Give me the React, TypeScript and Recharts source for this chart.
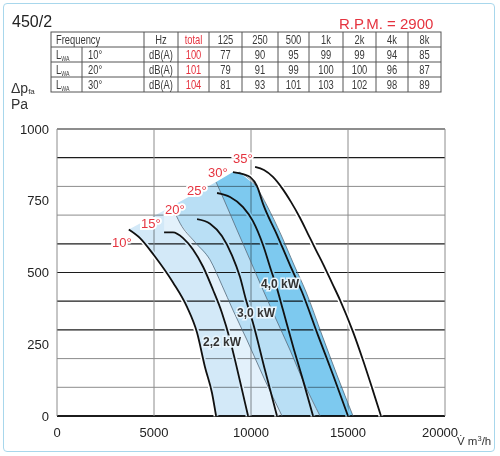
import React from 'react';
import { ComposedChart, Line, Scatter, XAxis, YAxis, CartesianGrid } from 'recharts';

type Pt = [number, number];

// blade angle curves, [flow m3/h, pressure Pa]
const CURVE_10: Pt[] = [[3700, 650], [4280, 620], [5000, 560], [5980, 465], [6700, 380], [7220, 290], [7630, 170], [7990, 80], [8200, 0]];
const CURVE_15: Pt[] = [[5520, 640], [5980, 640], [6500, 620], [7010, 580], [7530, 520], [8040, 440], [8500, 360], [8920, 265], [9230, 180], [9540, 90], [9850, 0]];
const CURVE_20: Pt[] = [[7220, 686], [7890, 670], [8500, 627], [9020, 560], [9430, 485], [9740, 405], [10100, 325], [10720, 160], [11340, 0]];
const CURVE_25: Pt[] = [[8250, 777], [8920, 763], [9590, 728], [10100, 679], [10620, 596], [11030, 509], [11290, 456], [11650, 369], [12220, 230], [12680, 125], [13200, 0]];
const CURVE_30: Pt[] = [[9070, 850], [9590, 843], [9950, 833], [10310, 801], [10620, 739], [11340, 631], [12010, 526], [12630, 432], [13450, 282], [14230, 143], [15000, 0]];
const CURVE_35: Pt[] = [[10210, 868], [10670, 857], [11130, 833], [11600, 794], [12060, 746], [12530, 690], [12940, 634], [13350, 578], [13710, 530], [14180, 463], [14590, 404], [15260, 293], [15770, 195], [16240, 98], [16700, 0]];

// motor power limits (band boundaries) and outer edge of the shaded field
const LIMIT_22: Pt[] = [[5930, 732], [6340, 672], [7110, 606], [7890, 544], [8500, 456], [9070, 369], [9790, 265], [10670, 132], [11600, 0]];
const LIMIT_30: Pt[] = [[8200, 815], [8610, 753], [9280, 648], [9950, 544], [10620, 439], [11240, 345], [12010, 230], [12780, 108], [13560, 0]];
const LIMIT_40: Pt[] = [[9380, 850], [10210, 805], [10830, 732], [11550, 631], [12220, 526], [12840, 432], [13660, 282], [14430, 143], [15260, 0]];
const TOP_15: Pt = [5520, 716];

const BLADE_LABELS = [
  { text: '10°', x: 2835, y: 606 },
  { text: '15°', x: 4330, y: 672 },
  { text: '20°', x: 5567, y: 718 },
  { text: '25°', x: 6701, y: 787 },
  { text: '30°', x: 7783, y: 850 },
  { text: '35°', x: 9072, y: 899 },
];
const POWER_LABELS = [
  { text: '2,2 kW', x: 7526, y: 258 },
  { text: '3,0 kW', x: 9278, y: 359 },
  { text: '4,0 kW', x: 10515, y: 460 },
];

const X_TICKS = [0, 5000, 10000, 15000, 20000];
const Y_TICKS = [0, 250, 500, 750, 1000];
const GRID_Y = [0, 50, 100, 150, 200, 250, 300, 350, 400, 450, 500, 550, 600, 650, 700, 750, 800, 850, 900, 950, 1000];
const GRID_DARK = [0, 150, 200, 250, 300, 450, 500, 550, 600, 700, 750, 850, 900];

// sound power table
const BANDS = ['Hz', 'total', '125', '250', '500', '1k', '2k', '4k', '8k'];
const ANGLES = ['10°', '20°', '30°'];
const TOTALS = [100, 101, 104];
const LEVELS = [
  [77, 90, 95, 99, 99, 94, 85],
  [79, 91, 99, 100, 100, 96, 87],
  [81, 93, 101, 103, 102, 98, 89],
];

const RED = '#e5333f';
const FONT = '"Liberation Sans", Arial, sans-serif';
const COL_X = [51, 82, 144, 178, 209, 242, 278, 309, 343, 376, 408, 441];
const ROW_Y = [32, 47, 62, 77, 92];

const toObj = (pts: Pt[]) => pts.map(([x, y]) => ({ x, y }));
const poly = (...parts: Pt[][]) => toObj(parts.flat());

const CURVES = [CURVE_10, CURVE_15, CURVE_20, CURVE_25, CURVE_30, CURVE_35];
const SHADES = [
  { fill: '#d3e9f8', pts: poly(CURVE_10, [...CURVE_15].reverse(), [TOP_15]) },
  { fill: '#e3f1fb', pts: poly(CURVE_15, [...LIMIT_22].reverse(), [TOP_15]) },
  { fill: '#b9dff5', pts: poly(LIMIT_22, [...LIMIT_30].reverse()) },
  { fill: '#7dc9ef', pts: poly(LIMIT_30, [...LIMIT_40].reverse(), [CURVE_30[0]]) },
];

const polygon = (fill: string) => (p: any) => (
  <path
    d={p.points.map((q: any, i: number) => `${i ? 'L' : 'M'}${q.x},${q.y}`).join('') + 'Z'}
    fill={fill}
    stroke="none"
    style={{ mixBlendMode: 'multiply' }}
  />
);

// condensed table text
function Cell({ x, y, anchor = 'start', fill = '#3a3a3a', children }: any) {
  return (
    <g transform={`translate(${x},${y}) scale(0.75,1)`}>
      <text x={0} y={0} textAnchor={anchor} fill={fill}>{children}</text>
    </g>
  );
}

function SoundTable() {
  const cx = (i: number) => (COL_X[i] + COL_X[i + 1]) / 2;
  return (
    <g fontFamily={FONT} fontSize={12.5}>
      <rect x={COL_X[0]} y={ROW_Y[0]} width={COL_X[11] - COL_X[0]} height={ROW_Y[4] - ROW_Y[0]} fill="none" stroke="#555" />
      {ROW_Y.slice(1, 4).map((y) => (
        <line key={y} x1={COL_X[0]} x2={COL_X[11]} y1={y} y2={y} stroke="#555" />
      ))}
      {COL_X.slice(1, 11).map((x, i) => (
        <line key={x} x1={x} x2={x} y1={i === 0 ? ROW_Y[1] : ROW_Y[0]} y2={ROW_Y[4]} stroke="#555" />
      ))}
      <Cell x={56} y={ROW_Y[0] + 11.5}>Frequency</Cell>
      {BANDS.map((b, i) => (
        <Cell key={b} x={cx(i + 2)} y={ROW_Y[0] + 11.5} anchor="middle" fill={i === 1 ? RED : '#3a3a3a'}>{b}</Cell>
      ))}
      {ANGLES.map((a, r) => {
        const y = ROW_Y[r + 1] + 11.5;
        return (
          <g key={a}>
            <Cell x={56} y={y}>L<tspan fontSize={7} dy={2}>WA</tspan></Cell>
            <Cell x={88} y={y}>{a}</Cell>
            <Cell x={cx(2)} y={y} anchor="middle">dB(A)</Cell>
            <Cell x={cx(3)} y={y} anchor="middle" fill={RED}>{TOTALS[r]}</Cell>
            {LEVELS[r].map((v, i) => (
              <Cell key={i} x={cx(i + 4)} y={y} anchor="middle">{v}</Cell>
            ))}
          </g>
        );
      })}
    </g>
  );
}

const xTick = (p: any) => (
  <text x={p.x - (p.payload.value === 20000 ? 5 : 0)} y={p.y} dy="0.71em" textAnchor="middle" fontSize={13} fill="#222" fontFamily={FONT}>
    {p.payload.value}
  </text>
);

export default function App() {
  return (
    <div style={{ position: 'absolute', left: 0, top: 0, width: 500, height: 456, background: '#fff' }}>
      <div style={{ position: 'absolute', left: 3, top: 3, width: 490, height: 447, border: '1.5px solid #a8d7ec', borderRadius: 4 }} />
      <ComposedChart width={500} height={456} margin={{ top: 129, right: 55, bottom: 0, left: 0 }} style={{ position: 'absolute', left: 0, top: 0 }}>
        <CartesianGrid
          verticalValues={X_TICKS}
          horizontalValues={GRID_Y}
          stroke="#8c8c8c"
          horizontal={(p: any) => {
            const v = GRID_Y[p.index];
            const dark = GRID_DARK.includes(v);
            return (
              <line
                key={`h-${p.index}`}
                x1={p.x1}
                x2={p.x2}
                y1={p.y1}
                y2={p.y2}
                stroke={dark ? '#1c1c1c' : '#8c8c8c'}
                strokeWidth={v === 0 ? 2.2 : dark ? 1.2 : 1}
              />
            );
          }}
        />
        <XAxis
          type="number"
          dataKey="x"
          domain={[0, 20000]}
          ticks={X_TICKS}
          height={40}
          tickSize={0}
          tickMargin={12}
          axisLine={false}
          tick={xTick}
        />
        <YAxis
          type="number"
          domain={[0, 1000]}
          ticks={Y_TICKS}
          width={57}
          tickSize={0}
          tickMargin={8}
          axisLine={false}
          tick={{ fontSize: 13, fill: '#222', fontFamily: FONT }}
        />
        {CURVES.map((c, i) => (
          <Line key={`halo-${i}`} zIndex={100} data={toObj(c)} dataKey="y" type="monotone" dot={false} activeDot={false} stroke="#fff" strokeWidth={5} isAnimationActive={false} />
        ))}
        {SHADES.map((s, i) => (
          <Scatter key={`shade-${i}`} zIndex={200} data={s.pts} dataKey="y" shape={() => <g />} line={polygon(s.fill)} isAnimationActive={false} />
        ))}
        {[LIMIT_22, LIMIT_30, LIMIT_40].map((c, i) => (
          <Line key={`limit-${i}`} data={toObj(c)} dataKey="y" type="monotone" dot={false} activeDot={false} stroke="#55697a" strokeWidth={0.8} isAnimationActive={false} />
        ))}
        {CURVES.map((c, i) => (
          <Line key={`curve-${i}`} data={toObj(c)} dataKey="y" type="monotone" dot={false} activeDot={false} stroke="#111" strokeWidth={1.8} isAnimationActive={false} />
        ))}
        <Scatter
          data={POWER_LABELS}
          dataKey="y"
          isAnimationActive={false}
          shape={(p: any) => (
            <text x={p.cx} y={p.cy} dy="0.35em" fontFamily={FONT} fontSize={12} fontWeight="bold" fill="#333" stroke="#e8f5fd" strokeWidth={3} paintOrder="stroke">
              {p.payload.text}
            </text>
          )}
        />
        <Scatter
          data={BLADE_LABELS}
          dataKey="y"
          isAnimationActive={false}
          shape={(p: any) => (
            <text x={p.cx} y={p.cy} dy="0.35em" fontFamily={FONT} fontSize={13} fill={RED} stroke="#fff" strokeWidth={4} paintOrder="stroke">
              {p.payload.text}
            </text>
          )}
        />
      </ComposedChart>
      <svg width={500} height={456} style={{ position: 'absolute', left: 0, top: 0, pointerEvents: 'none' }}>
        <text x={12} y={27} fontFamily={FONT} fontSize={16} fill="#222">450/2</text>
        <text x={339} y={29} fontFamily={FONT} fontSize={15} fill={RED}>R.P.M. = 2900</text>
        <SoundTable />
        <text x={11} y={93} fontFamily={FONT} fontSize={14} fill="#333">
          Δp<tspan fontSize={8} dy={1}>fa</tspan>
        </text>
        <text x={11} y={109} fontFamily={FONT} fontSize={14} fill="#333">Pa</text>
        <text x={457} y={445} fontFamily={FONT} fontSize={11.5} fill="#333">
          V̇ m<tspan fontSize={7.5} dy={-4}>3</tspan><tspan dy={4}>/h</tspan>
        </text>
      </svg>
    </div>
  );
}
